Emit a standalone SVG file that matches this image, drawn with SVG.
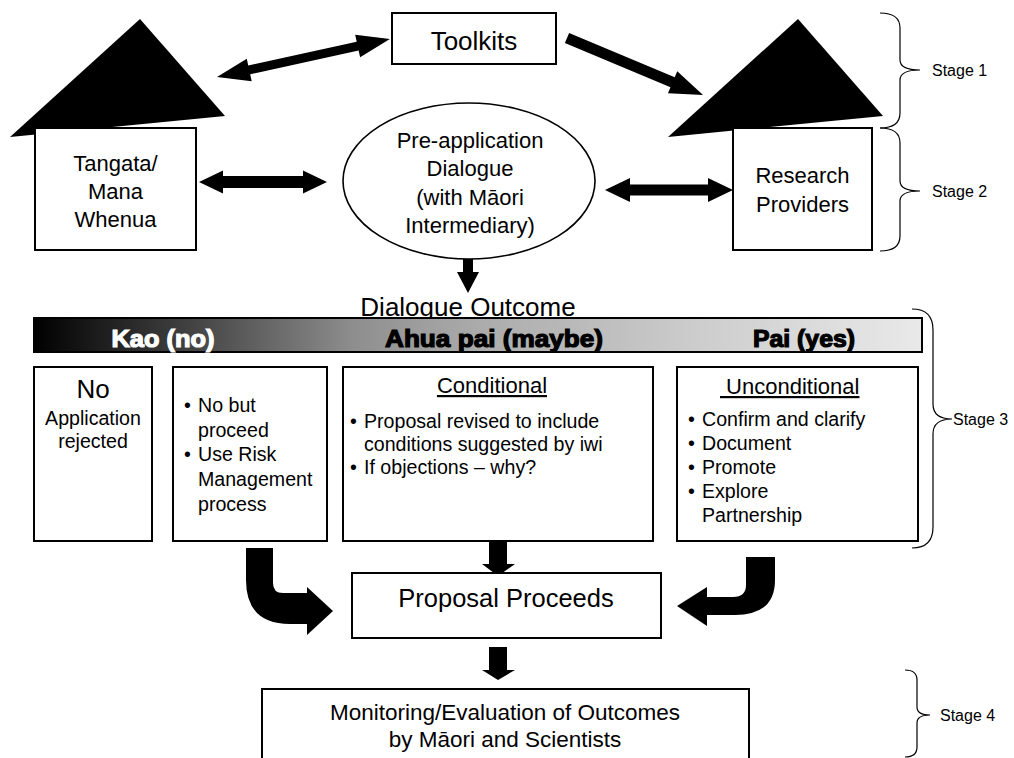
<svg xmlns="http://www.w3.org/2000/svg" width="1014" height="758" viewBox="0 0 1014 758">
<defs>
<linearGradient id="barGrad" x1="0" y1="0" x2="1" y2="0">
<stop offset="0" stop-color="#000000"/>
<stop offset="0.05" stop-color="#141414"/>
<stop offset="0.17" stop-color="#404040"/>
<stop offset="0.36" stop-color="#8e8e8e"/>
<stop offset="0.5" stop-color="#ababab"/>
<stop offset="0.75" stop-color="#cdcdcd"/>
<stop offset="1" stop-color="#e9e9e9"/>
</linearGradient>
<style>
text{font-family:"Liberation Sans",Arial,sans-serif;fill:#000}
.box{fill:#fff;stroke:#000;stroke-width:2}
.arr{fill:#000;stroke:none}
.brace{fill:none;stroke:#000;stroke-width:1.2}
.t22{font-size:22px;text-anchor:middle}
.t20{font-size:19.6px}
.stage{font-size:16px}
.bar{font-size:24px;font-weight:bold;stroke-width:1.2;text-anchor:middle}
</style>
</defs>
<rect width="1014" height="758" fill="#fff"/>

<g id="connectors">
<polygon class="arr" transform="translate(217,77) rotate(-12.39)" points="0,0 33,-11.5 33,-4.5 144,-4.5 144,-11.5 177,0 144,11.5 144,4.5 33,4.5 33,11.5"/>
<polygon class="arr" transform="translate(567,38) rotate(22.74)" points="0,-5.5 114.5,-5.5 114.5,-12 147.5,0 114.5,12 114.5,5.5 0,5.5"/>
<polygon class="arr" points="199,182 223,170.5 223,176 303,176 303,170.5 327,182 303,193.5 303,188 223,188 223,193.5"/>
<polygon class="arr" points="605,190 630,178 630,184.5 708,184.5 708,178 733,190 708,202 708,195.5 630,195.5 630,202"/>
<polygon class="arr" points="463,259 473,259 473,272 479,272 468,293 457,272 463,272"/>
<polygon class="arr" points="489,541 507,541 507,564 515,564 498,576 482,564 489,564"/>
<polygon class="arr" points="489,647 507,647 507,670 515,670 498,680 482,670 489,670"/>
<path class="arr" d="M246,548 L273,548 L273,583 Q273,593 283,593 L307,593 L307,587 L333,611 L307,635 L307,624 L290,624 Q246,624 246,580 Z"/>
<path class="arr" d="M746,557 L775,557 L775,580 Q775,615 735,615 L707,615 L707,626 L677,606 L707,587 L707,597 L733,597 Q746,597 746,585 Z"/>
</g>

<g id="node-toolkits">
<rect class="box" x="392" y="13" width="164" height="51"/>
<text x="474" y="50" font-size="26" text-anchor="middle">Toolkits</text>
</g>

<g id="node-tangata">
<polygon fill="#000" points="140,19 10,137 225,116"/>
<rect class="box" x="35" y="128" width="161" height="122"/>
<text class="t22" x="115.5" y="171">Tangata/</text>
<text class="t22" x="115.5" y="199">Mana</text>
<text class="t22" x="115.5" y="227">Whenua</text>
</g>

<g id="node-research">
<polygon fill="#000" points="798,19 668,137 883,116"/>
<rect class="box" x="733" y="128" width="139" height="122"/>
<text class="t22" x="802.5" y="183">Research</text>
<text class="t22" x="802.5" y="212">Providers</text>
</g>

<g id="node-dialogue">
<ellipse cx="469" cy="181" rx="126" ry="78" fill="#fff" stroke="#000" stroke-width="1.6"/>
<text class="t22" x="470" y="148">Pre-application</text>
<text class="t22" x="470" y="176">Dialogue</text>
<text class="t22" x="470" y="205">(with Māori</text>
<text class="t22" x="470" y="233">Intermediary)</text>
</g>

<g id="node-outcome">
<text x="468" y="316" font-size="26" text-anchor="middle">Dialogue Outcome</text>
<rect x="34" y="318" width="888" height="34" fill="url(#barGrad)" stroke="#000" stroke-width="2"/>
<text class="bar" x="163" y="347" textLength="103" lengthAdjust="spacingAndGlyphs" style="fill:#fff;stroke:#fff">Kao (no)</text>
<text class="bar" x="494" y="347" textLength="218" lengthAdjust="spacingAndGlyphs" style="stroke:#000">Ahua pai (maybe)</text>
<text class="bar" x="804" y="347" textLength="102" lengthAdjust="spacingAndGlyphs" style="stroke:#000">Pai (yes)</text>
</g>

<g id="node-no">
<rect class="box" x="34" y="367" width="118" height="174"/>
<text x="93" y="398" font-size="26" text-anchor="middle">No</text>
<text class="t20" x="93" y="425" text-anchor="middle">Application</text>
<text class="t20" x="93" y="448" text-anchor="middle">rejected</text>
</g>

<g id="node-nobut">
<rect class="box" x="173" y="367" width="154" height="174"/>
<text class="t20" x="184" y="412">•</text>
<text class="t20" x="198" y="412">No but</text>
<text class="t20" x="198" y="437">proceed</text>
<text class="t20" x="184" y="461">•</text>
<text class="t20" x="198" y="461">Use Risk</text>
<text class="t20" x="198" y="486">Management</text>
<text class="t20" x="198" y="511">process</text>
</g>

<g id="node-conditional">
<rect class="box" x="343" y="367" width="310" height="174"/>
<text x="492" y="393" font-size="22" text-anchor="middle" text-decoration="underline">Conditional</text>
<text class="t20" x="350" y="428">•</text>
<text class="t20" x="364" y="428">Proposal revised to include</text>
<text class="t20" x="364" y="451">conditions suggested by iwi</text>
<text class="t20" x="350" y="474">•</text>
<text class="t20" x="364" y="474">If objections – why?</text>
</g>

<g id="node-unconditional">
<rect class="box" x="677" y="367" width="241" height="174"/>
<text x="720" y="394" font-size="22" xml:space="preserve" text-decoration="underline"> Unconditional</text>
<text class="t20" x="688" y="426">•</text>
<text class="t20" x="702" y="426">Confirm and clarify</text>
<text class="t20" x="688" y="450">•</text>
<text class="t20" x="702" y="450">Document</text>
<text class="t20" x="688" y="474">•</text>
<text class="t20" x="702" y="474">Promote</text>
<text class="t20" x="688" y="498">•</text>
<text class="t20" x="702" y="498">Explore</text>
<text class="t20" x="702" y="522">Partnership</text>
</g>

<g id="node-proceeds">
<rect class="box" x="352" y="573" width="309" height="65"/>
<text x="506" y="607" font-size="25.5" text-anchor="middle">Proposal Proceeds</text>
</g>

<g id="node-monitoring">
<rect class="box" x="262" y="689" width="487" height="85"/>
<text x="505" y="720" font-size="22.5" text-anchor="middle">Monitoring/Evaluation of Outcomes</text>
<text x="505" y="747" font-size="22.5" text-anchor="middle">by Māori and Scientists</text>
</g>

<g id="stages">
<path class="brace" d="M880,13 Q900,13 900,28 L900,60 Q900,70 920,70 Q900,70 900,80 L900,113 Q900,128 880,128"/>
<text class="stage" x="932" y="76">Stage 1</text>
<path class="brace" d="M880,128 Q900,128 900,143 L900,181 Q900,191 920,191 Q900,191 900,201 L900,236 Q900,251 880,251"/>
<text class="stage" x="932" y="197">Stage 2</text>
<path class="brace" d="M912,309 Q933,309 933,330 L933,404 Q933,419 952,419 Q933,419 933,434 L933,527 Q933,548 912,548"/>
<text class="stage" x="953" y="425">Stage 3</text>
<path class="brace" d="M905,670 Q917,670 917,680 L917,707 Q917,715 930,715 Q917,715 917,723 L917,747 Q917,757 905,757"/>
<text class="stage" x="940" y="721">Stage 4</text>
</g>
</svg>
